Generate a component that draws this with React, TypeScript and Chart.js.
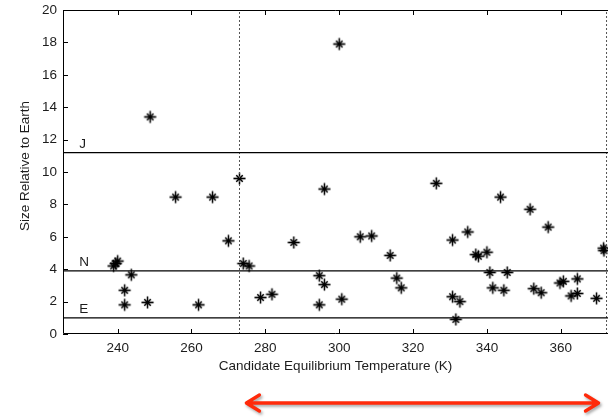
import { useEffect, useRef } from "react";
import { Chart, registerables } from "chart.js";

Chart.register(...registerables);

// Candidate equilibrium temperature (K)
const temperatures = [
  248.8, 300.0, 273.0, 255.7, 265.7, 270.0, 274.0, 275.6, 240.0, 238.9,
  239.5, 243.7, 241.9, 241.9, 248.1, 261.9, 278.7, 296.0, 287.7, 305.7,
  308.8, 313.8, 315.6, 316.8, 294.6, 296.0, 294.6, 300.7, 281.8, 326.3,
  343.7, 351.7, 356.6, 334.8, 330.7, 337.0, 337.7, 340.0, 371.6, 371.7,
  340.8, 345.5, 341.6, 344.6, 352.7, 354.7, 359.8, 360.7, 364.5, 362.8,
  364.5, 369.7, 330.7, 332.7, 331.6,
];
// Size relative to Earth
const sizes = [
  13.4, 17.9, 9.6, 8.45, 8.45, 5.75, 4.35, 4.2, 4.5, 4.2,
  4.35, 3.65, 2.7, 1.8, 1.95, 1.8, 2.25, 8.95, 5.65, 6.0,
  6.05, 4.85, 3.45, 2.85, 3.6, 3.05, 1.8, 2.15, 2.45, 9.3,
  8.45, 7.7, 6.6, 6.3, 5.8, 4.9, 4.8, 5.05, 5.3, 5.15,
  3.8, 3.8, 2.85, 2.7, 2.8, 2.55, 3.15, 3.25, 3.4, 2.35,
  2.5, 2.2, 2.3, 2.0, 0.9,
];

const xTicks = [240, 260, 280, 300, 320, 340, 360];
const yTicks = [0, 2, 4, 6, 8, 10, 12, 14, 16, 18, 20];
const xRange = [225.2, 372.8];
const yRange = [0, 20];

const planetLabels = ["J", "N", "E"];
const planetSizes = [11.2, 3.9, 1.0];
const tempLimits = [273, 372.4];
const arrowRange = [274.6, 370.5];
const labelTemp = 229.6;

const FONT = "Arial, 'Liberation Sans', sans-serif";
const TEXT = "#1c1c1c";

function makeAsterisk(): HTMLCanvasElement {
  const c = document.createElement("canvas");
  c.width = 15;
  c.height = 15;
  const g = c.getContext("2d")!;
  g.translate(7.5, 7.5);
  g.lineCap = "butt";
  g.strokeStyle = "rgba(0,0,0,0.18)";
  g.lineWidth = 2.6;
  g.beginPath();
  g.moveTo(-6, 0); g.lineTo(6, 0);
  g.moveTo(0, -6); g.lineTo(0, 6);
  g.moveTo(-3.4, -3.4); g.lineTo(3.4, 3.4);
  g.moveTo(-3.4, 3.4); g.lineTo(3.4, -3.4);
  g.stroke();
  g.strokeStyle = "#000";
  g.lineWidth = 1.3;
  g.beginPath();
  g.moveTo(-6, 0); g.lineTo(6, 0);
  g.moveTo(0, -6); g.lineTo(0, 6);
  g.moveTo(-3.2, -3.2); g.lineTo(3.2, 3.2);
  g.moveTo(-3.2, 3.2); g.lineTo(3.2, -3.2);
  g.stroke();
  g.fillStyle = "#000";
  g.beginPath();
  g.arc(0, 0, 1.8, 0, Math.PI * 2);
  g.fill();
  return c;
}

const decorPlugin = {
  id: "decor",
  afterDraw(chart: any) {
    const { ctx, chartArea } = chart;
    const xs = chart.scales.x;
    const ys = chart.scales.y;
    const { left, right, top, bottom } = chartArea;
    ctx.save();
    // frame
    ctx.strokeStyle = "#000";
    ctx.lineWidth = 1;
    ctx.beginPath();
    ctx.moveTo(right, top + 0.5);
    ctx.lineTo(left + 0.5, top + 0.5);
    ctx.lineTo(left + 0.5, bottom - 0.5);
    ctx.lineTo(right, bottom - 0.5);
    ctx.stroke();
    // inward ticks
    ctx.beginPath();
    for (const v of xTicks) {
      const px = Math.round(xs.getPixelForValue(v)) + 0.5;
      ctx.moveTo(px, bottom);
      ctx.lineTo(px, bottom - 5);
      ctx.moveTo(px, top);
      ctx.lineTo(px, top + 5);
    }
    for (const v of yTicks) {
      const py = Math.round(ys.getPixelForValue(v)) + 0.5;
      ctx.moveTo(left, py);
      ctx.lineTo(left + 5, py);
    }
    ctx.stroke();
    // planet labels
    ctx.fillStyle = TEXT;
    ctx.font = `13.5px ${FONT}`;
    ctx.textAlign = "left";
    ctx.textBaseline = "alphabetic";
    planetLabels.forEach((lab, i) => {
      const py = ys.getPixelForValue(planetSizes[i]);
      ctx.fillText(lab, xs.getPixelForValue(labelTemp), py - 5);
    });
    // y title
    ctx.save();
    ctx.translate(25, 166);
    ctx.rotate(-Math.PI / 2);
    ctx.textAlign = "center";
    ctx.textBaseline = "middle";
    ctx.fillText("Size Relative to Earth", 0, 0);
    ctx.restore();
    // red double arrow
    const ax0 = xs.getPixelForValue(arrowRange[0]);
    const ax1 = xs.getPixelForValue(arrowRange[1]);
    const ay = bottom + 69;
    ctx.shadowColor = "rgba(0,0,0,0.35)";
    ctx.shadowBlur = 3;
    ctx.shadowOffsetX = 1.5;
    ctx.shadowOffsetY = 2;
    ctx.strokeStyle = "#ff2a0a";
    ctx.lineWidth = 3.4;
    ctx.lineCap = "round";
    ctx.lineJoin = "round";
    ctx.beginPath();
    ctx.moveTo(ax0 + 2, ay);
    ctx.lineTo(ax1 - 2, ay);
    ctx.moveTo(ax0 + 14, ay - 8);
    ctx.lineTo(ax0 + 1, ay);
    ctx.lineTo(ax0 + 14, ay + 8);
    ctx.moveTo(ax1 - 14, ay - 8);
    ctx.lineTo(ax1 - 1, ay);
    ctx.lineTo(ax1 - 14, ay + 8);
    ctx.stroke();
    ctx.restore();
  },
};

export default function App() {
  const ref = useRef<HTMLCanvasElement | null>(null);
  useEffect(() => {
    if (!ref.current) return;
    const marker = makeAsterisk();
    const hLines = planetSizes.map((s) => ({
      type: "line" as const,
      data: [
        { x: xRange[0], y: s },
        { x: xRange[1], y: s },
      ],
      borderColor: "#000",
      borderWidth: 1.3,
      pointRadius: 0,
      showLine: true,
    }));
    const vLines = tempLimits.map((t) => ({
      type: "line" as const,
      data: [
        { x: t, y: yRange[0] },
        { x: t, y: yRange[1] },
      ],
      borderColor: "#555",
      borderWidth: 1,
      borderDash: [2, 2],
      pointRadius: 0,
      showLine: true,
    }));
    const chart = new Chart(ref.current, {
      type: "scatter",
      data: {
        datasets: [
          ...hLines,
          ...vLines,
          {
            type: "scatter",
            data: temperatures.map((t, i) => ({ x: t, y: sizes[i] })),
            pointStyle: marker,
            pointRadius: 6,
            borderColor: "#000",
            backgroundColor: "#000",
            borderWidth: 1,
          },
        ] as any,
      },
      options: {
        animation: false,
        responsive: false,
        devicePixelRatio: 1,
        layout: { autoPadding: false, padding: { top: 10, left: 0, right: 0, bottom: 0 } },
        plugins: { legend: { display: false }, tooltip: { enabled: false } },
        scales: {
          x: {
            type: "linear",
            min: xRange[0],
            max: xRange[1],
            grid: { display: false, drawTicks: false },
            border: { display: false },
            afterBuildTicks: (s: any) => {
              s.ticks = xTicks.map((v) => ({ value: v }));
            },
            afterFit: (s: any) => {
              s.height = 85;
              s.paddingLeft = 0;
              s.paddingRight = 0;
            },
            ticks: {
              padding: 6,
              color: TEXT,
              font: { family: FONT, size: 13.5 },
              callback: (v: any) => String(v),
            },
            title: {
              display: true,
              text: "Candidate Equilibrium Temperature (K)",
              color: TEXT,
              font: { family: FONT, size: 13.5 },
              padding: { top: 0, bottom: 45 },
            },
          },
          y: {
            type: "linear",
            min: yRange[0],
            max: yRange[1],
            grid: { display: false, drawTicks: false },
            border: { display: false },
            afterBuildTicks: (s: any) => {
              s.ticks = yTicks.map((v) => ({ value: v }));
            },
            afterFit: (s: any) => {
              s.width = 63;
              s.paddingTop = 0;
              s.paddingBottom = 0;
            },
            ticks: {
              padding: 6,
              color: TEXT,
              font: { family: FONT, size: 13.5 },
              callback: (v: any) => String(v),
            },
          },
        },
      },
      plugins: [decorPlugin],
    });
    return () => chart.destroy();
  }, []);
  return (
    <canvas
      ref={ref}
      width={608}
      height={419}
      style={{ position: "fixed", left: 0, top: 0, width: 608, height: 419 }}
    />
  );
}
